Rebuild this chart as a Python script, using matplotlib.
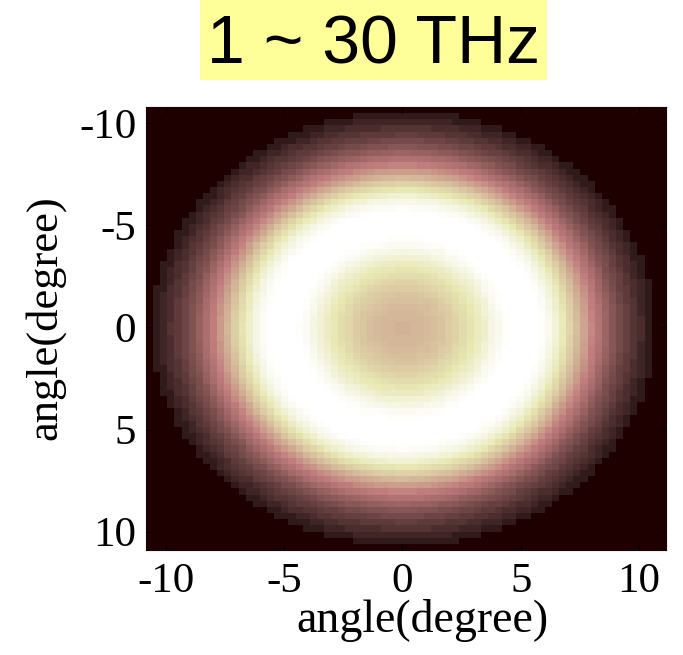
import numpy as np
import matplotlib
matplotlib.use("Agg")
import matplotlib.pyplot as plt
from matplotlib.colors import ListedColormap
from matplotlib.patches import Rectangle

# ---- data ----
title_text = "1 ~ 30 THz"
x_ticks = [-10, -5, 0, 5, 10]
y_ticks = [-10, -5, 0, 5, 10]
x_tick_labels = ["-10", "-5", "0", "5", "10"]
y_tick_labels = ["-10", "-5", "0", "5", "10"]
axis_label = "angle(degree)"

# radial intensity profile (normalised), read every 0.3 degree from the centre
profile_step = 0.3
radial_profile = [0.53, 0.53, 0.535, 0.545, 0.56, 0.58, 0.60, 0.63, 0.67, 0.71,
                  0.75, 0.80, 0.86, 0.92, 0.97, 0.99, 1.00, 1.00, 1.00, 0.99,
                  0.95, 0.88, 0.79, 0.69, 0.60, 0.50, 0.42, 0.34, 0.27, 0.20,
                  0.15, 0.11, 0.08, 0.055, 0.035, 0.02]
aperture_radius = 10.6
x_limits = (-10.85, 11.15)
y_limits = (-10.8, 10.9)

# ---- MATLAB-like "pink" colormap (64 levels) ----
m = 64
gray = np.linspace(0, 1, m)
n = int(3 / 8 * m)
hr = np.concatenate([np.arange(1, n + 1) / n, np.ones(m - n)])
hg = np.concatenate([np.zeros(n), np.arange(1, n + 1) / n, np.ones(m - 2 * n)])
hb = np.concatenate([np.zeros(2 * n), np.arange(1, m - 2 * n + 1) / (m - 2 * n)])
pink = np.sqrt((2 * np.stack([gray, gray, gray], 1) + np.stack([hr, hg, hb], 1)) / 3)
cmap = ListedColormap(pink)

# ---- image grid: each cell takes the profile value at its radius ----
cell = profile_step
xc = np.arange(x_limits[0] + cell / 2, x_limits[1], cell)
yc = np.arange(y_limits[0] + cell / 2, y_limits[1], cell)
X, Y = np.meshgrid(xc, yc)
R = np.hypot(X, Y)
prof_r = np.arange(len(radial_profile)) * profile_step
Z = np.where(R <= aperture_radius, np.interp(R, prof_r, radial_profile), 0.0)

# ---- figure ----
fig = plt.figure(figsize=(6.83, 6.55), dpi=100)
ax = fig.add_axes([146 / 683, (655 - 550) / 655, 520 / 683, 443 / 655])
ax.imshow(Z, cmap=cmap, vmin=0, vmax=1, interpolation="nearest", aspect="auto",
          extent=(x_limits[0], x_limits[1], y_limits[1], y_limits[0]))
ax.set_xlim(*x_limits)
ax.set_ylim(y_limits[1], y_limits[0])

serif = ["Liberation Serif", "DejaVu Serif"]
ax.set_xticks(x_ticks)
ax.set_yticks(y_ticks)
ax.set_xticklabels(x_tick_labels, fontfamily=serif, fontsize=31)
ax.set_yticklabels(y_tick_labels, fontfamily=serif, fontsize=31)
ax.tick_params(direction="in", length=4, width=0.8, color="black",
               top=True, right=True, pad=7)
ax.tick_params(axis="x", pad=9)
for s in ax.spines.values():
    s.set_color("#1a0000")
    s.set_linewidth(0.8)

fig.text(422 / 683, 1 - 632 / 655, axis_label, fontfamily=serif, fontsize=33,
         ha="center", va="baseline")
fig.text(45 / 683, 1 - 318 / 655, axis_label, fontfamily=serif, fontsize=32,
         ha="center", va="center", rotation=90)

# title with yellow box
fig.patches.append(Rectangle((200 / 683, (655 - 80) / 655), 347 / 683, 80 / 655,
                             transform=fig.transFigure, facecolor="#ffff99",
                             edgecolor="none", zorder=0))
fig.text(373.5 / 683, 1 - 63 / 655, title_text,
         fontfamily=["Liberation Sans", "DejaVu Sans"], fontsize=49,
         ha="center", va="baseline")

fig.savefig("out.png", dpi=100, facecolor="white")
